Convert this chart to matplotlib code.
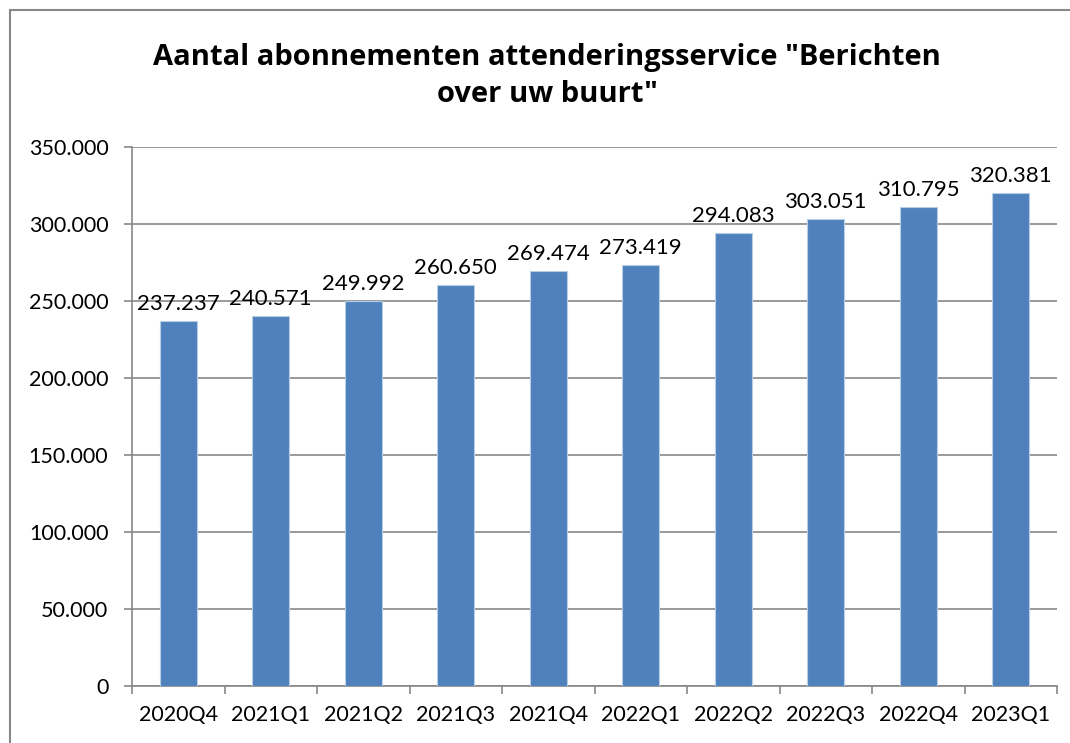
import matplotlib
matplotlib.use("Agg")
import matplotlib.pyplot as plt
from matplotlib.patches import Rectangle

categories = ["2020Q4", "2021Q1", "2021Q2", "2021Q3", "2021Q4",
              "2022Q1", "2022Q2", "2022Q3", "2022Q4", "2023Q1"]
values = [237237, 240571, 249992, 260650, 269474,
          273419, 294083, 303051, 310795, 320381]
yticks = [0, 50000, 100000, 150000, 200000, 250000, 300000, 350000]

def fmt(v):
    return f"{v:,}".replace(",", ".")

plt.rcParams['font.family'] = ['Lato', 'DejaVu Sans']

W, H = 1070, 743
fig = plt.figure(figsize=(W / 100, H / 100), dpi=100)
ax = fig.add_axes([132 / W, 1 - 686 / H, (1057 - 132) / W, (686 - 147) / H])

x = list(range(len(categories)))
ax.bar(x, values, width=0.4, color="#4F81BD", edgecolor="#B9CDE5",
       linewidth=0.8, zorder=3)
for xi, v in zip(x, values):
    ax.text(xi, v + 4500, fmt(v), ha="center", va="bottom", fontsize=16,
            color="#000000")

ax.set_xlim(-0.5, len(categories) - 0.5)
ax.set_ylim(0, 350000)
ax.set_yticks(yticks)
ax.set_yticklabels([fmt(t) for t in yticks], fontsize=15.5)
ax.yaxis.grid(True, color="#878787", linewidth=1.2, zorder=0)

ax.set_xticks(x)
ax.set_xticklabels(categories, fontsize=15.5)
ax.set_xticks([i - 0.5 for i in range(len(categories) + 1)], minor=True)
ax.tick_params(axis="x", which="major", length=0, pad=14)
ax.tick_params(axis="x", which="minor", length=6, width=1.2, color="#878787")
ax.tick_params(axis="y", length=6, width=1.2, color="#878787", pad=11)

for s in ["top", "right"]:
    ax.spines[s].set_visible(False)
for s in ["left", "bottom"]:
    ax.spines[s].set_color("#878787")
    ax.spines[s].set_linewidth(1.2)

fig.text(547 / W, 1 - 76 / H, 'Aantal abonnementen attenderingsservice "Berichten\nover uw buurt"',
         ha="center", va="center", fontsize=21, fontweight="bold",
         family=["Open Sans", "DejaVu Sans"], linespacing=1.38)

fig.patches.append(Rectangle((10 / W, -0.1), 1.2, 1 - 10 / H + 0.1,
                             transform=fig.transFigure, fill=False,
                             edgecolor="#878787", linewidth=1.5))

fig.savefig("out.png", dpi=100)
